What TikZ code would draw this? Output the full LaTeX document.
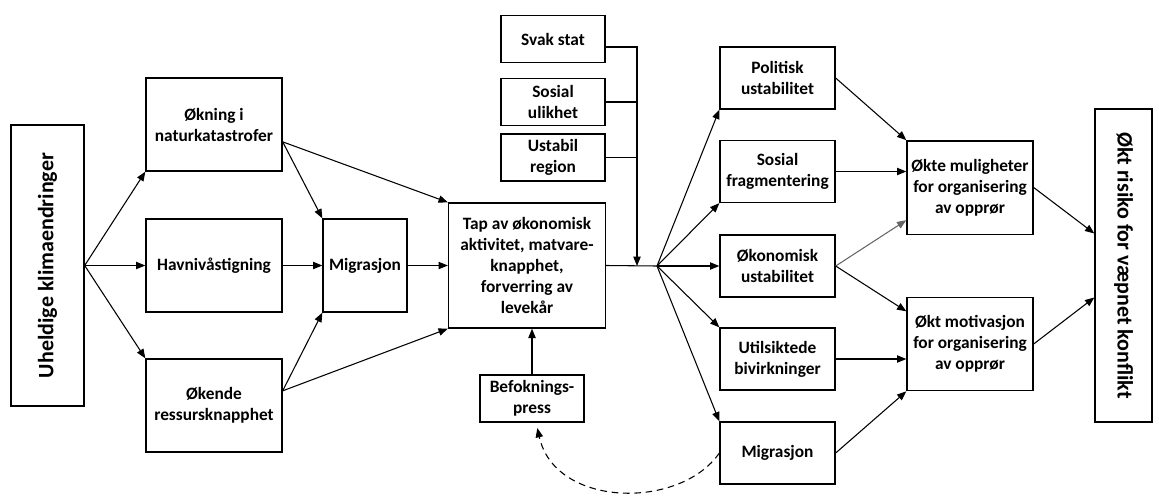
\documentclass[tikz,border=0pt]{standalone}
\usepackage{fontspec}
\setmainfont{Carlito}
\usetikzlibrary{arrows.meta}

\begin{document}
\begin{tikzpicture}[x=0.75pt,y=-0.75pt,
	boite/.style={draw,line width=1pt,align=center,inner sep=1pt,
		font=\bfseries\fontsize{13}{15.75}\selectfont},
	grande/.style={boite,font=\bfseries\fontsize{16.5}{19}\selectfont},
	fleche/.style={-{Triangle[length=7pt,width=5.5pt]},line width=0.8pt}]
\useasboundingbox (0,0) rectangle (1159,496);
%					Boîtes de gauche :
	\node[grande,rotate=90,minimum width=210.75pt,minimum height=54.75pt] (uhel) at (47.5,265.5) {Uheldige klimaendringer};
	\node[boite,minimum width=102pt,minimum height=69.75pt] (okning) at (214,124.5) {Økning i\\naturkatastrofer};
	\node[boite,minimum width=102pt,minimum height=69.75pt] (havniva) at (214,265.5) {Havnivåstigning};
	\node[boite,minimum width=102pt,minimum height=69.75pt] (okende) at (214,405.5) {Økende\\ressursknapphet};
	\node[boite,minimum width=63pt,minimum height=69.75pt] (migr) at (365,265.5) {Migrasjon};
	\node[boite,minimum width=117.75pt,minimum height=93.75pt] (tap) at (527,265.5) {Tap av økonomisk\\aktivitet, matvare-\\knapphet,\\forverring av\\levekår};
%					Boîtes du milieu :
	\node[boite,minimum width=78pt,minimum height=35.25pt] (svak) at (553,39) {Svak stat};
	\node[boite,minimum width=78pt,minimum height=35.25pt] (ulik) at (553,102) {Sosial\\ulikhet};
	\node[boite,minimum width=78pt,minimum height=35.25pt] (region) at (553,157.5) {Ustabil\\region};
	\node[boite,minimum width=78pt,minimum height=35.25pt] (befolk) at (532,398.5) {Befoknings-\\press};
	\coordinate (samle) at (637,266);
	\coordinate (knute) at (657,266);
%					Boîtes de droite :
	\node[boite,minimum width=86.25pt,minimum height=46.5pt] (politisk) at (777.5,78) {Politisk\\ustabilitet};
	\node[boite,minimum width=86.25pt,minimum height=46.5pt] (frag) at (777.5,171.5) {Sosial\\fragmentering};
	\node[boite,minimum width=86.25pt,minimum height=46.5pt] (okonom) at (777.5,266) {Økonomisk\\ustabilitet};
	\node[boite,minimum width=86.25pt,minimum height=46.5pt] (bivirk) at (777.5,359) {Utilsiktede\\bivirkninger};
	\node[boite,minimum width=86.25pt,minimum height=46.5pt] (migrto) at (777.5,453) {Migrasjon};
	\node[boite,minimum width=94.5pt,minimum height=70pt] (mulig) at (970,187.5) {Økte muligheter\\for organisering\\av opprør};
	\node[boite,minimum width=94.5pt,minimum height=70pt] (motiv) at (970,344) {Økt motivasjon\\for organisering\\av opprør};
	\node[grande,rotate=-90,minimum width=234.75pt,minimum height=42.75pt] (risiko) at (1123.5,265.5) {Økt risiko for væpnet konflikt};
%					Flèches de gauche :
	\draw[fleche] (uhel.south) -- (okning.south west);
	\draw[fleche] (uhel.south) -- (havniva.west);
	\draw[fleche] (uhel.south) -- (okende.north west);
	\draw[fleche] ([yshift=-13pt]okning.east) -- (migr.north west);
	\draw[fleche] ([yshift=-13pt]okning.east) -- (tap.north west);
	\draw[fleche] (havniva.east) -- (migr.west);
	\draw[fleche] ([yshift=11pt]okende.east) -- (migr.south west);
	\draw[fleche] ([yshift=11pt]okende.east) -- (tap.south west);
	\draw[fleche] (migr.east) -- (tap.west);
	\draw[fleche] (befolk.north) -- (befolk.north |- tap.south);
%					Flèches du milieu :
	\draw[fleche] ([yshift=-6pt]svak.east) -| (samle);
	\draw[line width=0.8pt] (ulik.east) -- (ulik.east -| samle);
	\draw[line width=0.8pt] (region.east) -- (region.east -| samle);
	\draw[line width=0.8pt] (tap.east) -- (knute);
	\draw[fleche] (knute) -- (politisk.south west);
	\draw[fleche] (knute) -- (frag.south west);
	\draw[fleche] (knute) -- (okonom.west);
	\draw[fleche] (knute) -- (bivirk.north west);
	\draw[fleche] (knute) -- (migrto.north west);
	\draw[fleche,dash pattern=on 5pt off 3.5pt] (migrto.west) .. controls (680,510) and (555,508) .. ([xshift=4pt,yshift=-4pt]befolk.south);
%					Flèches de droite :
	\draw[fleche] (politisk.east) -- (mulig.north west);
	\draw[fleche] (frag.east) -- (frag.east -| mulig.west);
	\draw[fleche,gray!80!black] (okonom.east) -- ([yshift=11pt]mulig.south west);
	\draw[fleche] (okonom.east) -- ([yshift=-11pt]motiv.north west);
	\draw[fleche] (bivirk.east) -- (bivirk.east -| motiv.west);
	\draw[fleche] (migrto.east) -- (motiv.south west);
	\draw[fleche] (mulig.east) -- ([yshift=24pt]risiko.south);
	\draw[fleche] (motiv.east) -- ([yshift=-24pt]risiko.south);
\end{tikzpicture}
\end{document}
